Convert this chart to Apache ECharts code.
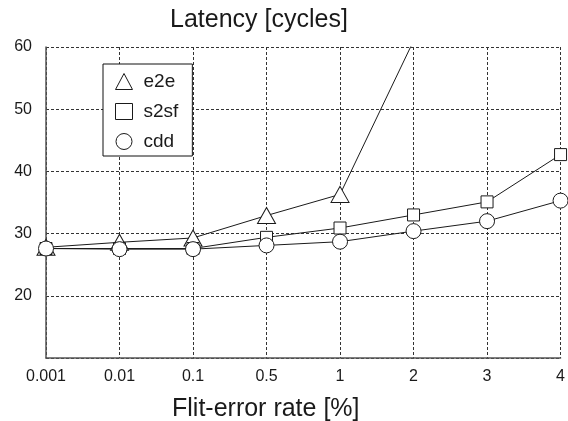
<!DOCTYPE html>
<html>
<head>
<meta charset="utf-8">
<script src="https://cdn.jsdelivr.net/npm/echarts@6/dist/echarts.min.js"></script>
<style>
  html, body { margin: 0; padding: 0; background: #fff; }
  #chart { width: 568px; height: 421px; }
</style>
</head>
<body>
<div id="chart"></div>
<script>
// error rates [%], evenly spaced on the axis
const rates = ['0.001', '0.01', '0.1', '0.5', '1', '2', '3', '4'];
// latency [cycles]
const e2e  = [27.8, 28.6, 29.3, 32.9, 36.3, 61, null, null];
const s2sf = [27.6, 27.6, 27.6, 29.4, 30.9, 33.0, 35.1, 42.7];
const cdd  = [27.6, 27.5, 27.5, 28.1, 28.7, 30.4, 32.0, 35.3];
const yTicks = [10, 20, 30, 40, 50, 60];

const font = 'Liberation Sans, Arial, sans-serif';
const ink = '#1a1a1a';

function mkSeries(name, data, symbol, size) {
  return {
    name: name,
    type: 'line',
    data: data,
    symbol: symbol,
    symbolSize: size,
    clip: true,
    lineStyle: { color: ink, width: 1 },
    itemStyle: { color: '#fff', borderColor: ink, borderWidth: 1 },
    emphasis: { disabled: true },
    z: 3
  };
}

const chart = echarts.init(document.getElementById('chart'));
chart.setOption({
  animation: false,
  title: [
    { text: 'Latency [cycles]', left: 165, top: 3,
      textStyle: { fontFamily: font, fontSize: 25, fontWeight: 'normal', color: ink } },
    { text: 'Flit-error rate [%]', left: 167, top: 392,
      textStyle: { fontFamily: font, fontSize: 25, fontWeight: 'normal', color: ink } }
  ],
  grid: { left: 46, right: 6, top: 47, bottom: 63 },
  legend: {
    orient: 'vertical',
    left: 103, top: 64,
    padding: [8, 14, 5, 12],
    backgroundColor: '#fff',
    borderColor: '#111',
    borderWidth: 1,
    borderRadius: 0,
    itemGap: 11,
    itemWidth: 17,
    itemHeight: 16,
    textStyle: { fontFamily: font, fontSize: 19, color: ink, padding: [0, 0, 0, 6] },
    data: [
      { name: 'e2e', icon: 'triangle', itemStyle: { color: '#fff', borderColor: ink, borderWidth: 1 } },
      { name: 's2sf', icon: 'rect', itemStyle: { color: '#fff', borderColor: ink, borderWidth: 1 } },
      { name: 'cdd', icon: 'circle', itemStyle: { color: '#fff', borderColor: ink, borderWidth: 1 } }
    ]
  },
  xAxis: {
    type: 'category',
    data: rates,
    boundaryGap: false,
    axisLine: { lineStyle: { color: '#555', width: 1.5 } },
    axisTick: { show: false },
    axisLabel: { fontFamily: font, fontSize: 16, color: ink, margin: 11 },
    splitLine: { show: true, lineStyle: { color: '#333', type: [3, 2], width: 1 } }
  },
  yAxis: {
    type: 'value',
    min: yTicks[0],
    max: yTicks[yTicks.length - 1],
    interval: 10,
    axisLine: { show: true, lineStyle: { color: '#555', width: 1.5 } },
    axisTick: { show: false },
    axisLabel: {
      fontFamily: font, fontSize: 16, color: ink, margin: 14,
      formatter: v => (v === yTicks[0] ? '' : String(v))
    },
    splitLine: { show: true, lineStyle: { color: '#333', type: [3, 2], width: 1 } }
  },
  series: [
    mkSeries('e2e', e2e, 'triangle', [18, 16]),
    mkSeries('s2sf', s2sf, 'rect', 12),
    mkSeries('cdd', cdd, 'circle', 15)
  ]
});
</script>
</body>
</html>
